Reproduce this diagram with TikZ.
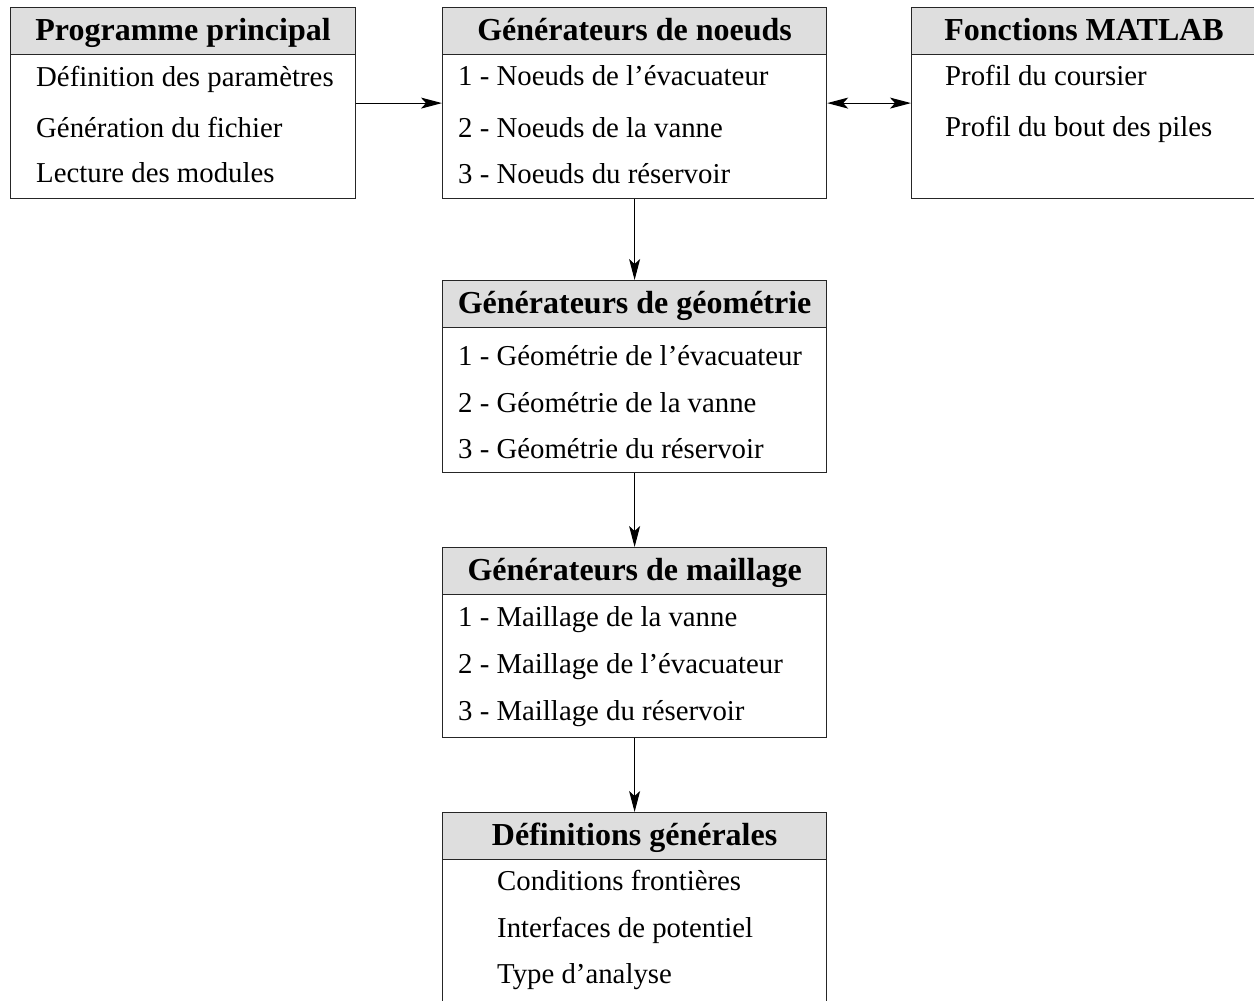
\documentclass[tikz,border=0pt]{standalone}
\usepackage{fontspec}
\setmainfont{Liberation Serif}
\usetikzlibrary{arrows.meta}
\begin{document}
\begin{tikzpicture}[x=1pt,y=-1pt,
  box/.style={draw=black!85, line width=1.2pt, fill=white, inner sep=0pt, anchor=north west},
  head/.style={draw=black!85, line width=1.2pt, fill=black!13, inner sep=0pt, anchor=north,
     minimum height=47pt, text height=25pt, text depth=6pt, font=\fontsize{32}{36}\selectfont\bfseries},
  item/.style={anchor=base west, inner sep=0pt, font=\fontsize{28.8}{34}\selectfont},
  tip/.tip={Stealth[length=21pt,width=11pt,inset=5pt]},
  arr/.style={line width=1.1pt, -tip},
  darr/.style={line width=1.1pt, tip-tip}]
\clip (0,0) rectangle (1254,1001);
\fill[white] (0,0) rectangle (1254,1001);
% boxes
\node[box, minimum width=345pt, minimum height=191pt] (b1) at (10,7) {};
\node[head, minimum width=345pt] (b1h) at (b1.north) {Programme principal};
\node[box, minimum width=384pt, minimum height=191pt] (b2) at (442,7) {};
\node[head, minimum width=384pt] (b2h) at (b2.north) {Générateurs de noeuds};
\node[box, minimum width=345pt, minimum height=191pt] (b3) at (911,7) {};
\node[head, minimum width=345pt] (b3h) at (b3.north) {Fonctions MATLAB};
\node[box, minimum width=384pt, minimum height=192pt] (b4) at (442,280) {};
\node[head, minimum width=384pt] (b4h) at (b4.north) {Générateurs de géométrie};
\node[box, minimum width=384pt, minimum height=190pt] (b5) at (442,547) {};
\node[head, minimum width=384pt] (b5h) at (b5.north) {Générateurs de maillage};
\node[box, minimum width=384pt, minimum height=192pt] (b6) at (442,812) {};
\node[head, minimum width=384pt] (b6h) at (b6.north) {Définitions générales};
% items
\node[item] (t11) at (36,86) {Définition des paramètres};
\node[item] (t12) at (36,137) {Génération du fichier};
\node[item] (t13) at (36,182) {Lecture des modules};
\node[item] (t21) at (458,85) {1 - Noeuds de l’évacuateur};
\node[item] (t22) at (458,137) {2 - Noeuds de la vanne};
\node[item] (t23) at (458,183) {3 - Noeuds du réservoir};
\node[item] (t31) at (945,85) {Profil du coursier};
\node[item] (t32) at (945,136) {Profil du bout des piles};
\node[item] (t41) at (458,365) {1 - Géométrie de l’évacuateur};
\node[item] (t42) at (458,412) {2 - Géométrie de la vanne};
\node[item] (t43) at (458,458) {3 - Géométrie du réservoir};
\node[item] (t51) at (458,626) {1 - Maillage de la vanne};
\node[item] (t52) at (458,673) {2 - Maillage de l’évacuateur};
\node[item] (t53) at (458,720) {3 - Maillage du réservoir};
\node[item] (t61) at (497,890) {Conditions frontières};
\node[item] (t62) at (497,937) {Interfaces de potentiel};
\node[item] (t63) at (497,983) {Type d’analyse};
% connectors
\draw[arr] (b1.east) -- (b2.west);
\draw[darr] (b2.east) -- (b3.west);
\draw[arr] (b2.south) -- (b4.north);
\draw[arr] (b4.south) -- (b5.north);
\draw[arr] (b5.south) -- (b6.north);
\end{tikzpicture}
\end{document}
